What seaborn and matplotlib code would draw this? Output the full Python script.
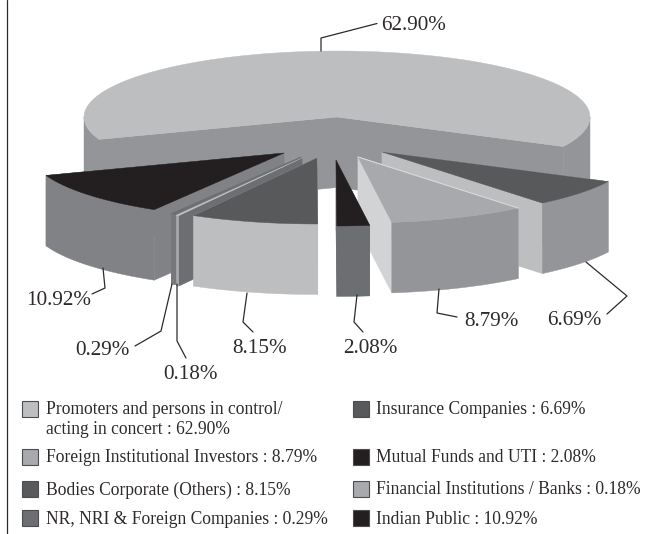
import numpy as np
import pandas as pd
import matplotlib.pyplot as plt
from matplotlib.patches import Polygon, Rectangle
import seaborn as sns

# Dados do grafico, na ordem em que as fatias aparecem (sentido anti-horario)
categorias = [
    "Promoters and persons in control/\nacting in concert",
    "Indian Public",
    "NR, NRI & Foreign Companies",
    "Financial Institutions / Banks",
    "Bodies Corporate (Others)",
    "Mutual Funds and UTI",
    "Foreign Institutional Investors",
    "Insurance Companies",
]
valores = [62.90, 10.92, 0.29, 0.18, 8.15, 2.08, 8.79, 6.69]

# Estilo de cada fatia: topo, parede externa, face de corte
cor_topo = ["#bcbec0", "#231f20", "#6d6e71", "#c4c6c8", "#58595b", "#231f20", "#a7a9ac", "#58595b"]
cor_parede = ["#939598", "#808285", "#77787b", "#a7a9ac", "#bcbec0", "#6d6e71", "#939598", "#939598"]
cor_corte = ["#939598", "#808285", "#77787b", "#6d6e71", "#bcbec0", "#6d6e71", "#d1d3d4", "#bcbec0"]
cor_legenda = ["#bcbec0", "#231f20", "#6d6e71", "#a7a9ac", "#58595b", "#231f20", "#a7a9ac", "#58595b"]

# Deslocamento (explode) de cada fatia em pixels
desloc_x = [0, -53, -36, -35, -20, -1, 21, 45]
desloc_y = [0, 36, 40, 41, 41, 43, 40, 35]

# Ordem de desenho, do fundo para a frente
ordem_desenho = [0, 1, 2, 3, 4, 7, 6, 5]

df = pd.DataFrame({"categoria": categorias, "valor": valores})
df["fim"] = -26.6 + df["valor"].cumsum() * 360 / df["valor"].sum()
df["inicio"] = df["fim"] - df["valor"] * 360 / df["valor"].sum()

sns.set_theme(style="white")
plt.rcParams["font.family"] = ["Liberation Serif", "DejaVu Serif"]
COR_TEXTO = "#2e2a2b"

fig, ax = plt.subplots(figsize=(6.46, 5.34), dpi=100)
ax.set_position([0, 0, 1, 1])
ax.set_xlim(0, 646)
ax.set_ylim(534, 0)
ax.axis("off")

CX, CY = 337, 117
RX, RY = 253, 66
ALTURA = 70.5


def arco(cx, cy, inicio, fim):
    t = np.radians(np.linspace(inicio, fim, 200))
    return np.column_stack([cx + RX * np.cos(t), cy - RY * np.sin(t)])


for i in ordem_desenho:
    linha = df.iloc[i]
    cx, cy = CX + desloc_x[i], CY + desloc_y[i]
    pts = arco(cx, cy, linha["inicio"], linha["fim"])
    centro = np.array([[cx, cy]])

    # faces de corte primeiro, depois a parede externa e por fim o topo
    for borda in (pts[0], pts[-1]):
        face = np.array([[cx, cy], borda, borda + [0, ALTURA], [cx, cy + ALTURA]])
        ax.add_patch(Polygon(face, closed=True, fc=cor_corte[i], ec=cor_corte[i], lw=0.3))
    # a parede so existe na metade da frente do arco
    for a, b in ((-180, 0), (180, 360)):
        lo, hi = max(linha["inicio"], a), min(linha["fim"], b)
        if lo < hi:
            frente = arco(cx, cy, lo, hi)
            parede = np.vstack([frente, (frente + [0, ALTURA])[::-1]])
            ax.add_patch(Polygon(parede, closed=True, fc=cor_parede[i], ec=cor_parede[i], lw=0.3))
    topo = np.vstack([centro, pts])
    ax.add_patch(Polygon(topo, closed=True, fc=cor_topo[i], ec=cor_topo[i], lw=0.3))

# Contorno claro na borda da fatia de Foreign Institutional
fii = df.iloc[6]
borda_fii = arco(CX + desloc_x[6], CY + desloc_y[6], fii["fim"], fii["fim"])[0]
ax.plot([CX + desloc_x[6], borda_fii[0]], [CY + desloc_y[6], borda_fii[1]], color="#d9dadb", lw=0.8)

# Linha vertical da esquerda
ax.plot([7, 7], [0, 534], color=COR_TEXTO, lw=0.9)

# Rotulos de percentual e linhas de chamada
chamadas = {
    0: ([321, 321, 377], [51, 38, 23.5], 381, 25),
    1: ([103, 105, 92], [268, 288, 294], 26, 300.5),
    2: ([172, 161, 135], [284, 331, 346], 75, 350.5),
    3: ([177, 177, 186], [284, 341, 358], 163, 374.5),
    4: ([247, 243, 253], [293, 322, 332], 232, 348.5),
    5: ([357, 354, 363], [295, 322, 332], 343, 348.5),
    6: ([439, 437, 457], [289, 313, 317], 464, 321.5),
    7: ([586, 627, 607], [262, 296, 314], 547, 320.5),
}
for i, (xs, ys, tx, ty) in chamadas.items():
    ax.plot(xs, ys, color=COR_TEXTO, lw=0.9, solid_joinstyle="miter")
    ax.text(tx, ty, f"{valores[i]:.2f}%", fontsize=15.2, color=COR_TEXTO, ha="left", va="center")

# Legenda em duas colunas: (indice, x do quadrado, y do quadrado)
legenda = [
    (0, 22, 409), (6, 22, 457), (4, 22, 489), (2, 22, 518),
    (7, 353, 409), (5, 353, 457), (3, 353, 489), (1, 353, 518),
]
for i, x, y in legenda:
    ax.add_patch(Rectangle((x, y - 8), 16, 16, fc=cor_legenda[i], ec="#4d4d4f", lw=0.8))
    texto = f"{categorias[i]} : {valores[i]:.2f}%"
    for n, parte in enumerate(texto.split("\n")):
        ax.text(x + 23.5, y + 1 + 19 * n, parte, fontsize=12.65, color=COR_TEXTO, ha="left", va="center")

fig.savefig("out.png", dpi=100)
plt.close(fig)
